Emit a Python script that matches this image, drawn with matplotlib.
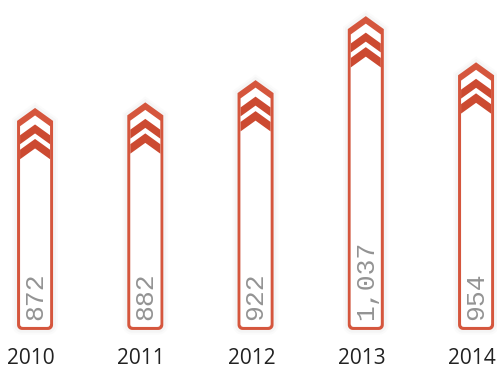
import numpy as np
import matplotlib
matplotlib.use("Agg")
import matplotlib.pyplot as plt
from matplotlib.patches import Polygon

years = ["2010", "2011", "2012", "2013", "2014"]
values = [872, 882, 922, 1037, 954]
value_labels = ["872", "882", "922", "1,037", "954"]

RED = "#d5563d"
BAND = "#cc4a31"
BASE = 473            # value at the foot of every arrow
XLIM = (-0.318, 4.19)
YLIM = (401, 1066)
W_PX, H_PX = 497, 370

HALF_W = 18           # px
BORDER = 3            # px
SLOPE = 0.72          # rise of the chevron per px of half width
# (tip drop in px, colour, half width in px) for the stacked chevron layers
LAYERS = [
    (0, RED, HALF_W),
    (7.5, "white", HALF_W - BORDER),
    (16.5, BAND, HALF_W - BORDER),
    (25.5, "white", HALF_W - BORDER),
    (31, BAND, HALF_W - BORDER),
    (40.5, "white", HALF_W - BORDER),
]

dx = (XLIM[1] - XLIM[0]) / W_PX
dy = (YLIM[1] - YLIM[0]) / H_PX


def arrow_shape(x0, tip, foot, hw, r):
    # local pixel outline, v measured up from the foot
    h = (tip - foot) / dy
    pts = []
    for a in np.linspace(np.pi, 1.5 * np.pi, 8):
        pts.append((-hw + r + r * np.cos(a), r + r * np.sin(a)))
    for a in np.linspace(1.5 * np.pi, 2 * np.pi, 8):
        pts.append((hw - r + r * np.cos(a), r + r * np.sin(a)))
    pts += [(hw, h - hw * SLOPE), (0, h), (-hw, h - hw * SLOPE)]
    pts = np.array(pts)
    return np.column_stack([x0 + pts[:, 0] * dx, foot + pts[:, 1] * dy])


fig = plt.figure(figsize=(W_PX / 100, H_PX / 100), dpi=100)
ax = fig.add_axes([0, 0, 1, 1])
ax.set_xlim(*XLIM)
ax.set_ylim(*YLIM)
ax.axis("off")

for i, (val, lbl, yr) in enumerate(zip(values, value_labels, years)):
    outer = arrow_shape(i, val, BASE, HALF_W, 5)
    # soft halo behind the arrow
    for lw, al in [(7, 0.02), (4, 0.035)]:
        ax.add_patch(Polygon(outer, closed=True, facecolor="none",
                             edgecolor="#555555", lw=lw, alpha=al, zorder=1))
    for k, (drop, col, hw) in enumerate(LAYERS):
        foot = BASE if k == 0 else BASE + BORDER * dy
        shape = arrow_shape(i, val - drop * dy, foot, hw, 5 if k == 0 else 3)
        ax.add_patch(Polygon(shape, closed=True, facecolor=col,
                             edgecolor="none", zorder=2 + k))

    ax.annotate(lbl, xy=(i, BASE), xytext=(0, 7.5), textcoords="offset points",
                rotation=90, ha="center", va="bottom", fontsize=19,
                family="Liberation Mono", color="#939393", zorder=10)
    ax.annotate(yr, xy=(i, 0.03), xycoords=ax.get_xaxis_transform(),
                xytext=(-3, 0), textcoords="offset points", ha="center",
                va="center", fontsize=15, family="Open Sans", color="#222222")

plt.savefig("out.png", dpi=100)
plt.close()
